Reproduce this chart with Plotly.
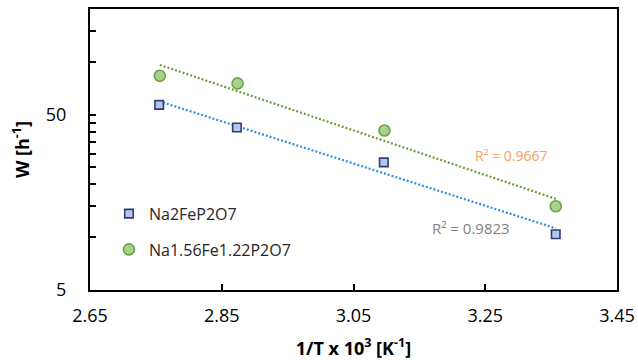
import numpy as np
import plotly.graph_objects as go

# Inverse temperature (1/T x 10^3, K^-1) and rate constant W (h^-1)
x_na2 = [2.755, 2.873, 3.096, 3.357]
w_na2 = [56.8, 42.2, 26.7, 10.4]
x_na156 = [2.756, 2.874, 3.097, 3.357]
w_na156 = [83.3, 75.3, 40.6, 15.0]

r2_na2 = "R² = 0.9823"
r2_na156 = "R² = 0.9667"

x_ticks = [2.65, 2.85, 3.05, 3.25, 3.45]
y_major = [5, 50]
y_minor = [10, 15, 20, 25, 30, 35, 40, 45, 100, 150]

FONT = "Open Sans"


def exp_fit(x, y):
    """Least-squares exponential trend y = a*exp(b*x), evaluated across the data span."""
    b, ln_a = np.polyfit(x, np.log(y), 1)
    xs = np.linspace(min(x), max(x), 50)
    return xs, np.exp(ln_a + b * xs)


fig = go.Figure()

xs, ys = exp_fit(x_na2, w_na2)
fig.add_trace(go.Scatter(x=xs, y=ys, mode="lines", showlegend=False,
                         line=dict(color="#2E8DDE", width=2.2, dash="2px,2px")))
xs, ys = exp_fit(x_na156, w_na156)
fig.add_trace(go.Scatter(x=xs, y=ys, mode="lines", showlegend=False,
                         line=dict(color="#6E9A3E", width=2.2, dash="2px,2px")))

fig.add_trace(go.Scatter(x=x_na2, y=w_na2, mode="markers", name="Na2FeP2O7",
                         legendgroup="a",
                         marker=dict(symbol="square", size=8.5, color="#B4C7E7",
                                     line=dict(color="#2F3B76", width=1.6))))
fig.add_trace(go.Scatter(x=x_na156, y=w_na156, mode="markers", name="Na1.56Fe1.22P2O7",
                         legendgroup="b",
                         marker=dict(symbol="circle", size=11, color="#A9D18E",
                                     line=dict(color="#6AA543", width=1.6))))

# R² labels for the two trend lines
fig.add_annotation(x=3.29, y=np.log10(29.2), text=r2_na156, showarrow=False,
                   font=dict(family=FONT, size=14, color="#F4A166"))
fig.add_annotation(x=3.228, y=np.log10(11.25), text=r2_na2, showarrow=False,
                   font=dict(family=FONT, size=15, color="#7F7F7F"))

axis_common = dict(showline=True, linecolor="black", linewidth=2, mirror=True,
                   ticks="inside", ticklen=6, tickwidth=1.5, tickcolor="black",
                   showgrid=False, zeroline=False, automargin=False,
                   tickfont=dict(family=FONT, size=18, color="black"))

fig.update_xaxes(range=[2.65, 3.45], tickmode="array", tickvals=x_ticks,
                 ticktext=[f"{v:.2f}" for v in x_ticks], ticklabelstandoff=8,
                 title=dict(text="<b>1/T x 10<sup>3</sup> [K<sup>-1</sup>]</b>",
                            font=dict(family=FONT, size=18, color="black"), standoff=19),
                 **axis_common)
fig.update_yaxes(type="log", range=[np.log10(5), np.log10(200)], tickmode="array",
                 tickvals=y_major, ticktext=[str(v) for v in y_major],
                 ticklabelstandoff=18,
                 minor=dict(tickmode="array", tickvals=y_minor, ticks="inside",
                            ticklen=6, tickwidth=1.5, tickcolor="black"),
                 title=dict(text="<b>W [h<sup>-1</sup>]</b>",
                            font=dict(family=FONT, size=18, color="black"), standoff=12),
                 **axis_common)

fig.update_layout(
    width=638, height=360,
    margin=dict(l=90, r=21, t=9, b=70),
    paper_bgcolor="white", plot_bgcolor="white",
    legend=dict(x=0.036, y=0.332, xanchor="left", yanchor="top",
                bgcolor="rgba(0,0,0,0)", tracegroupgap=12,
                font=dict(family=FONT, size=16, color="#262626")),
)

fig.write_html("out.html")
